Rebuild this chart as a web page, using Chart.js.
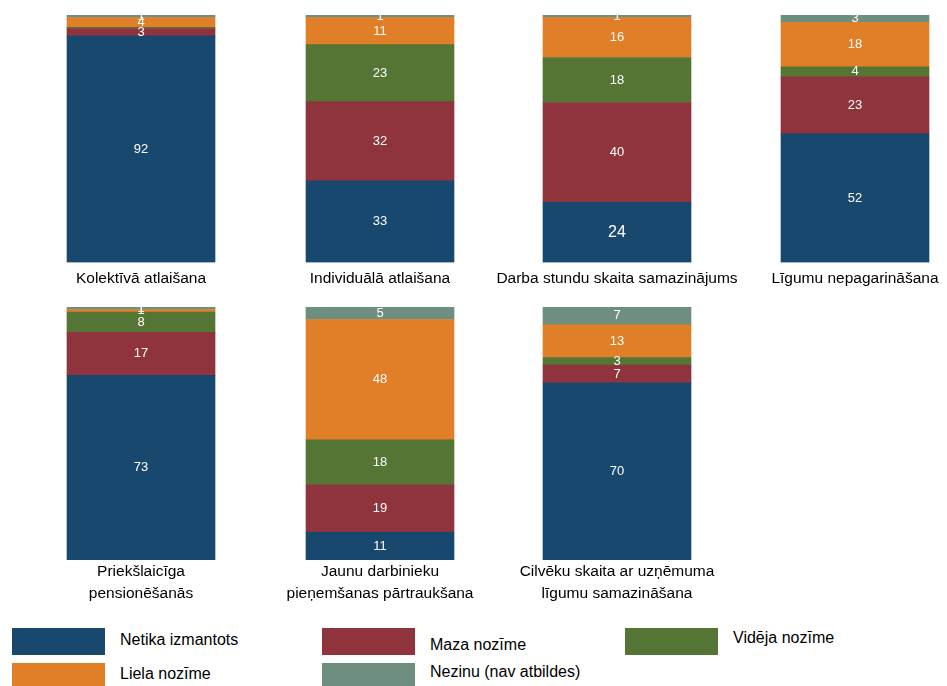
<!DOCTYPE html>
<html>
<head>
<meta charset="utf-8">
<script src="https://cdn.jsdelivr.net/npm/chart.js@4.4.1/dist/chart.umd.min.js"></script>
<style>
  html, body { margin: 0; padding: 0; background: #fff; width: 947px; height: 686px; overflow: hidden; }
  body { position: relative; font-family: "Liberation Sans", Arial, sans-serif; }
  .cell { position: absolute; }
  .swatch { position: absolute; width: 93px; height: 27px; }
  .ltext { position: absolute; font-size: 16px; color: #000; white-space: nowrap; }
</style>
</head>
<body>
<script>
// Kategorijas (katrs mazais grafiks)
const kategorijas = [
    'Kolektīvā atlaišana',
    'Individuālā atlaišana',
    'Darba stundu skaita samazinājums',
    'Līgumu nepagarināšana',
    ['Priekšlaicīga', 'pensionēšanās'],
    ['Jaunu darbinieku', 'pieņemšanas pārtraukšana'],
    ['Cilvēku skaita ar uzņēmuma', 'līgumu samazināšana']
];

// Sērijas (%)
const netikaIzmantots = [92, 33, 24, 52, 73, 11, 70];
const mazaNozime      = [3, 32, 40, 23, 17, 19, 7];
const videjaNozime    = [0.5, 23, 18, 4, 8, 18, 3];
const lielaNozime     = [4, 11, 16, 18, 1, 48, 13];
const nezinu          = [1, 1, 1, 3, 1, 5, 7];

const serijuNosaukumi = ['Netika izmantots', 'Maza nozīme', 'Vidēja nozīme', 'Liela nozīme', 'Nezinu (nav atbildes)'];
const serijas = [netikaIzmantots, mazaNozime, videjaNozime, lielaNozime, nezinu];
const krasas = ['#19486e', '#8f343c', '#557534', '#e17f28', '#6e8e80'];

// Izkārtojums
const centri = [141, 380, 617, 855, 141, 380, 617];
const platums = 262;
const fonts = '"Liberation Sans", Arial, sans-serif';

// Vērtību uzraksti segmentu vidū (viens uzraksts oriģinālā ir lielāks)
const lielakiUzraksti = { '2-0': 16 };
const vertibuUzraksti = {
    id: 'vertibuUzraksti',
    afterDatasetsDraw(chart) {
        const ctx = chart.ctx;
        const area = chart.chartArea;
        ctx.save();
        ctx.beginPath();
        ctx.rect(area.left, area.top, area.right - area.left, area.bottom - area.top);
        ctx.clip();
        ctx.fillStyle = '#ffffff';
        ctx.textAlign = 'center';
        ctx.textBaseline = 'middle';
        chart.data.datasets.forEach((ds, k) => {
            const meta = chart.getDatasetMeta(k);
            meta.data.forEach((el, j) => {
                const v = ds.data[j];
                if (v < 1) return;
                const izm = lielakiUzraksti[chart.options.indekss + '-' + k] || 13;
                ctx.font = izm + 'px ' + fonts;
                ctx.fillText(String(v), el.x, (el.y + el.base) / 2);
            });
        });
        ctx.restore();
    }
};

kategorijas.forEach((kat, i) => {
    const otraRinda = i >= 4;
    const augstums = otraRinda ? 310 : 292;

    const cell = document.createElement('div');
    cell.className = 'cell';
    cell.style.left = (centri[i] - platums / 2) + 'px';
    cell.style.top = (otraRinda ? 300 : 0) + 'px';
    cell.style.width = platums + 'px';
    cell.style.height = augstums + 'px';
    const canvas = document.createElement('canvas');
    canvas.width = platums;
    canvas.height = augstums;
    cell.appendChild(canvas);
    document.body.appendChild(cell);

    const kopa = serijas.reduce((s, arr) => s + arr[i], 0);

    new Chart(canvas.getContext('2d'), {
        type: 'bar',
        data: {
            labels: [''],
            datasets: serijas.map((arr, k) => ({
                label: serijuNosaukumi[k],
                data: [arr[i]],
                backgroundColor: krasas[k],
                borderWidth: 0,
                barThickness: 148
            }))
        },
        options: {
            indekss: i,
            responsive: false,
            animation: false,
            layout: { padding: { top: otraRinda ? 7 : 15, bottom: otraRinda ? 5 : 4, left: 0, right: 0 } },
            scales: {
                x: { stacked: true, display: false },
                y: { stacked: true, display: false, min: 0, max: kopa }
            },
            plugins: {
                legend: { display: false },
                tooltip: { enabled: false },
                title: {
                    display: true,
                    position: 'bottom',
                    text: kat,
                    color: '#000',
                    font: { family: fonts, size: 15.5, weight: 'normal', lineHeight: otraRinda ? '22px' : 1.2 },
                    padding: { top: otraRinda ? 1 : 7, bottom: 0 }
                }
            }
        },
        plugins: [vertibuUzraksti]
    });
});

// Leģenda
const legendaPoz = [
    { x: 12, y: 628, ty: 631 },
    { x: 322, y: 628, ty: 636 },
    { x: 625, y: 628, ty: 629 },
    { x: 12, y: 663, ty: 665 },
    { x: 322, y: 663, ty: 663 }
];
serijuNosaukumi.forEach((nos, k) => {
    const p = legendaPoz[k];
    const sw = document.createElement('div');
    sw.className = 'swatch';
    sw.style.left = p.x + 'px';
    sw.style.top = p.y + 'px';
    sw.style.background = krasas[k];
    document.body.appendChild(sw);
    const t = document.createElement('div');
    t.className = 'ltext';
    t.style.left = (p.x + 108) + 'px';
    t.style.top = p.ty + 'px';
    t.textContent = nos;
    document.body.appendChild(t);
});
</script>
</body>
</html>
